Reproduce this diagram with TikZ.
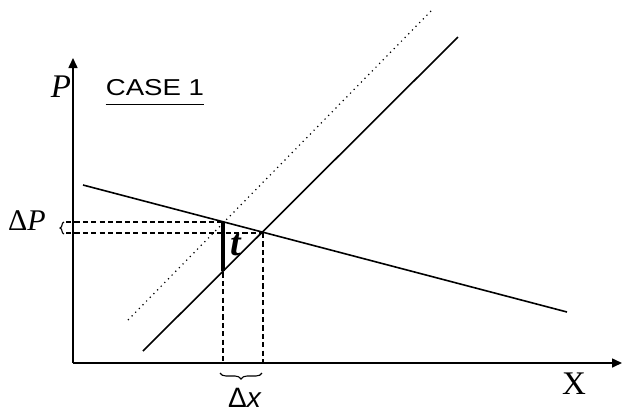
\documentclass[tikz,border=0pt]{standalone}
\usepackage{fontspec}
\setmainfont{Liberation Serif}
\newfontfamily\arialfont{Liberation Sans}
\usetikzlibrary{arrows.meta,decorations.pathreplacing}
\tikzset{
  axis/.style={black, line width=0.8pt, -{Triangle[length=5pt,width=4.5pt]}},
  curve/.style={black, line width=0.8pt},
  shifted/.style={black, line width=0.6pt, dotted},
  guide/.style={black, line width=0.65pt, dash pattern=on 2.6pt off 1.6pt},
  wedge/.style={black, line width=2pt},
  bracelab/.style={black, line width=0.55pt, decorate,
                   decoration={brace, amplitude=2pt}},
  axlab/.style={font=\fontsize{16.5}{18}\selectfont, inner sep=0pt},
}

\begin{document}
\begin{tikzpicture}[x=0.5pt,y=-0.5pt]
  \path[use as bounding box] (0,0) rectangle (622,414);

  % axes
  \coordinate (O) at (73,363);
  \coordinate (Ytop) at (73,58);
  \coordinate (Xend) at (622,363);
  \draw[axis] (O) -- (Ytop);
  \draw[axis] (O) -- (Xend);
  \node[axlab, font=\fontsize{16.5}{18}\selectfont\itshape] (P) at (61,87) {P};
  \node[axlab] (X) at (574,384) {X};

  % title
  \node[font=\arialfont\fontsize{11.5}{13}\selectfont, inner sep=0pt] (case) at (155,88)
    {\scalebox{1.2}[1]{CASE 1}};
  \draw[line width=0.55pt] ([yshift=-4.5pt]case.base west) -- ([yshift=-4.5pt]case.base east);

  % demand and supply lines
  \coordinate (D1) at (83,185);
  \coordinate (D2) at (567,312);
  \coordinate (S1) at (143,351);
  \coordinate (S2) at (458,37);
  \coordinate (T1) at (128,320);
  \coordinate (T2) at (432,10);
  \draw[curve] (D1) -- (D2);
  \draw[curve] (S1) -- (S2);
  \draw[shifted] (T1) -- (T2);

  % intersections
  \coordinate (U) at (223,222);
  \coordinate (L) at (263,233);
  \coordinate (Ub) at (223,271);

  % guide lines
  \draw[guide] (66,222) -- (U);
  \draw[guide] (66,233) -- (L);
  \draw[guide] (U) -- (223,361);
  \draw[guide] (L) -- (263,366);

  % tax wedge
  \draw[wedge] (U) -- (Ub);
  \node[font=\fontsize{19}{21}\selectfont\bfseries\itshape, inner sep=0pt] (t) at (236,245) {t};

  % braces
  \draw[bracelab] (64,234) -- (64,222);
  \node[font=\fontsize{15}{17}\selectfont, inner sep=0pt] (dP) at (27,221) {Δ\textit{P}};
  \draw[bracelab, decoration={amplitude=3pt}] (262,373) -- (220,373);
  \node[font=\arialfont\fontsize{14}{16}\selectfont, inner sep=0pt] (dx) at (245,398) {Δ\textit{x}};
\end{tikzpicture}
\end{document}
